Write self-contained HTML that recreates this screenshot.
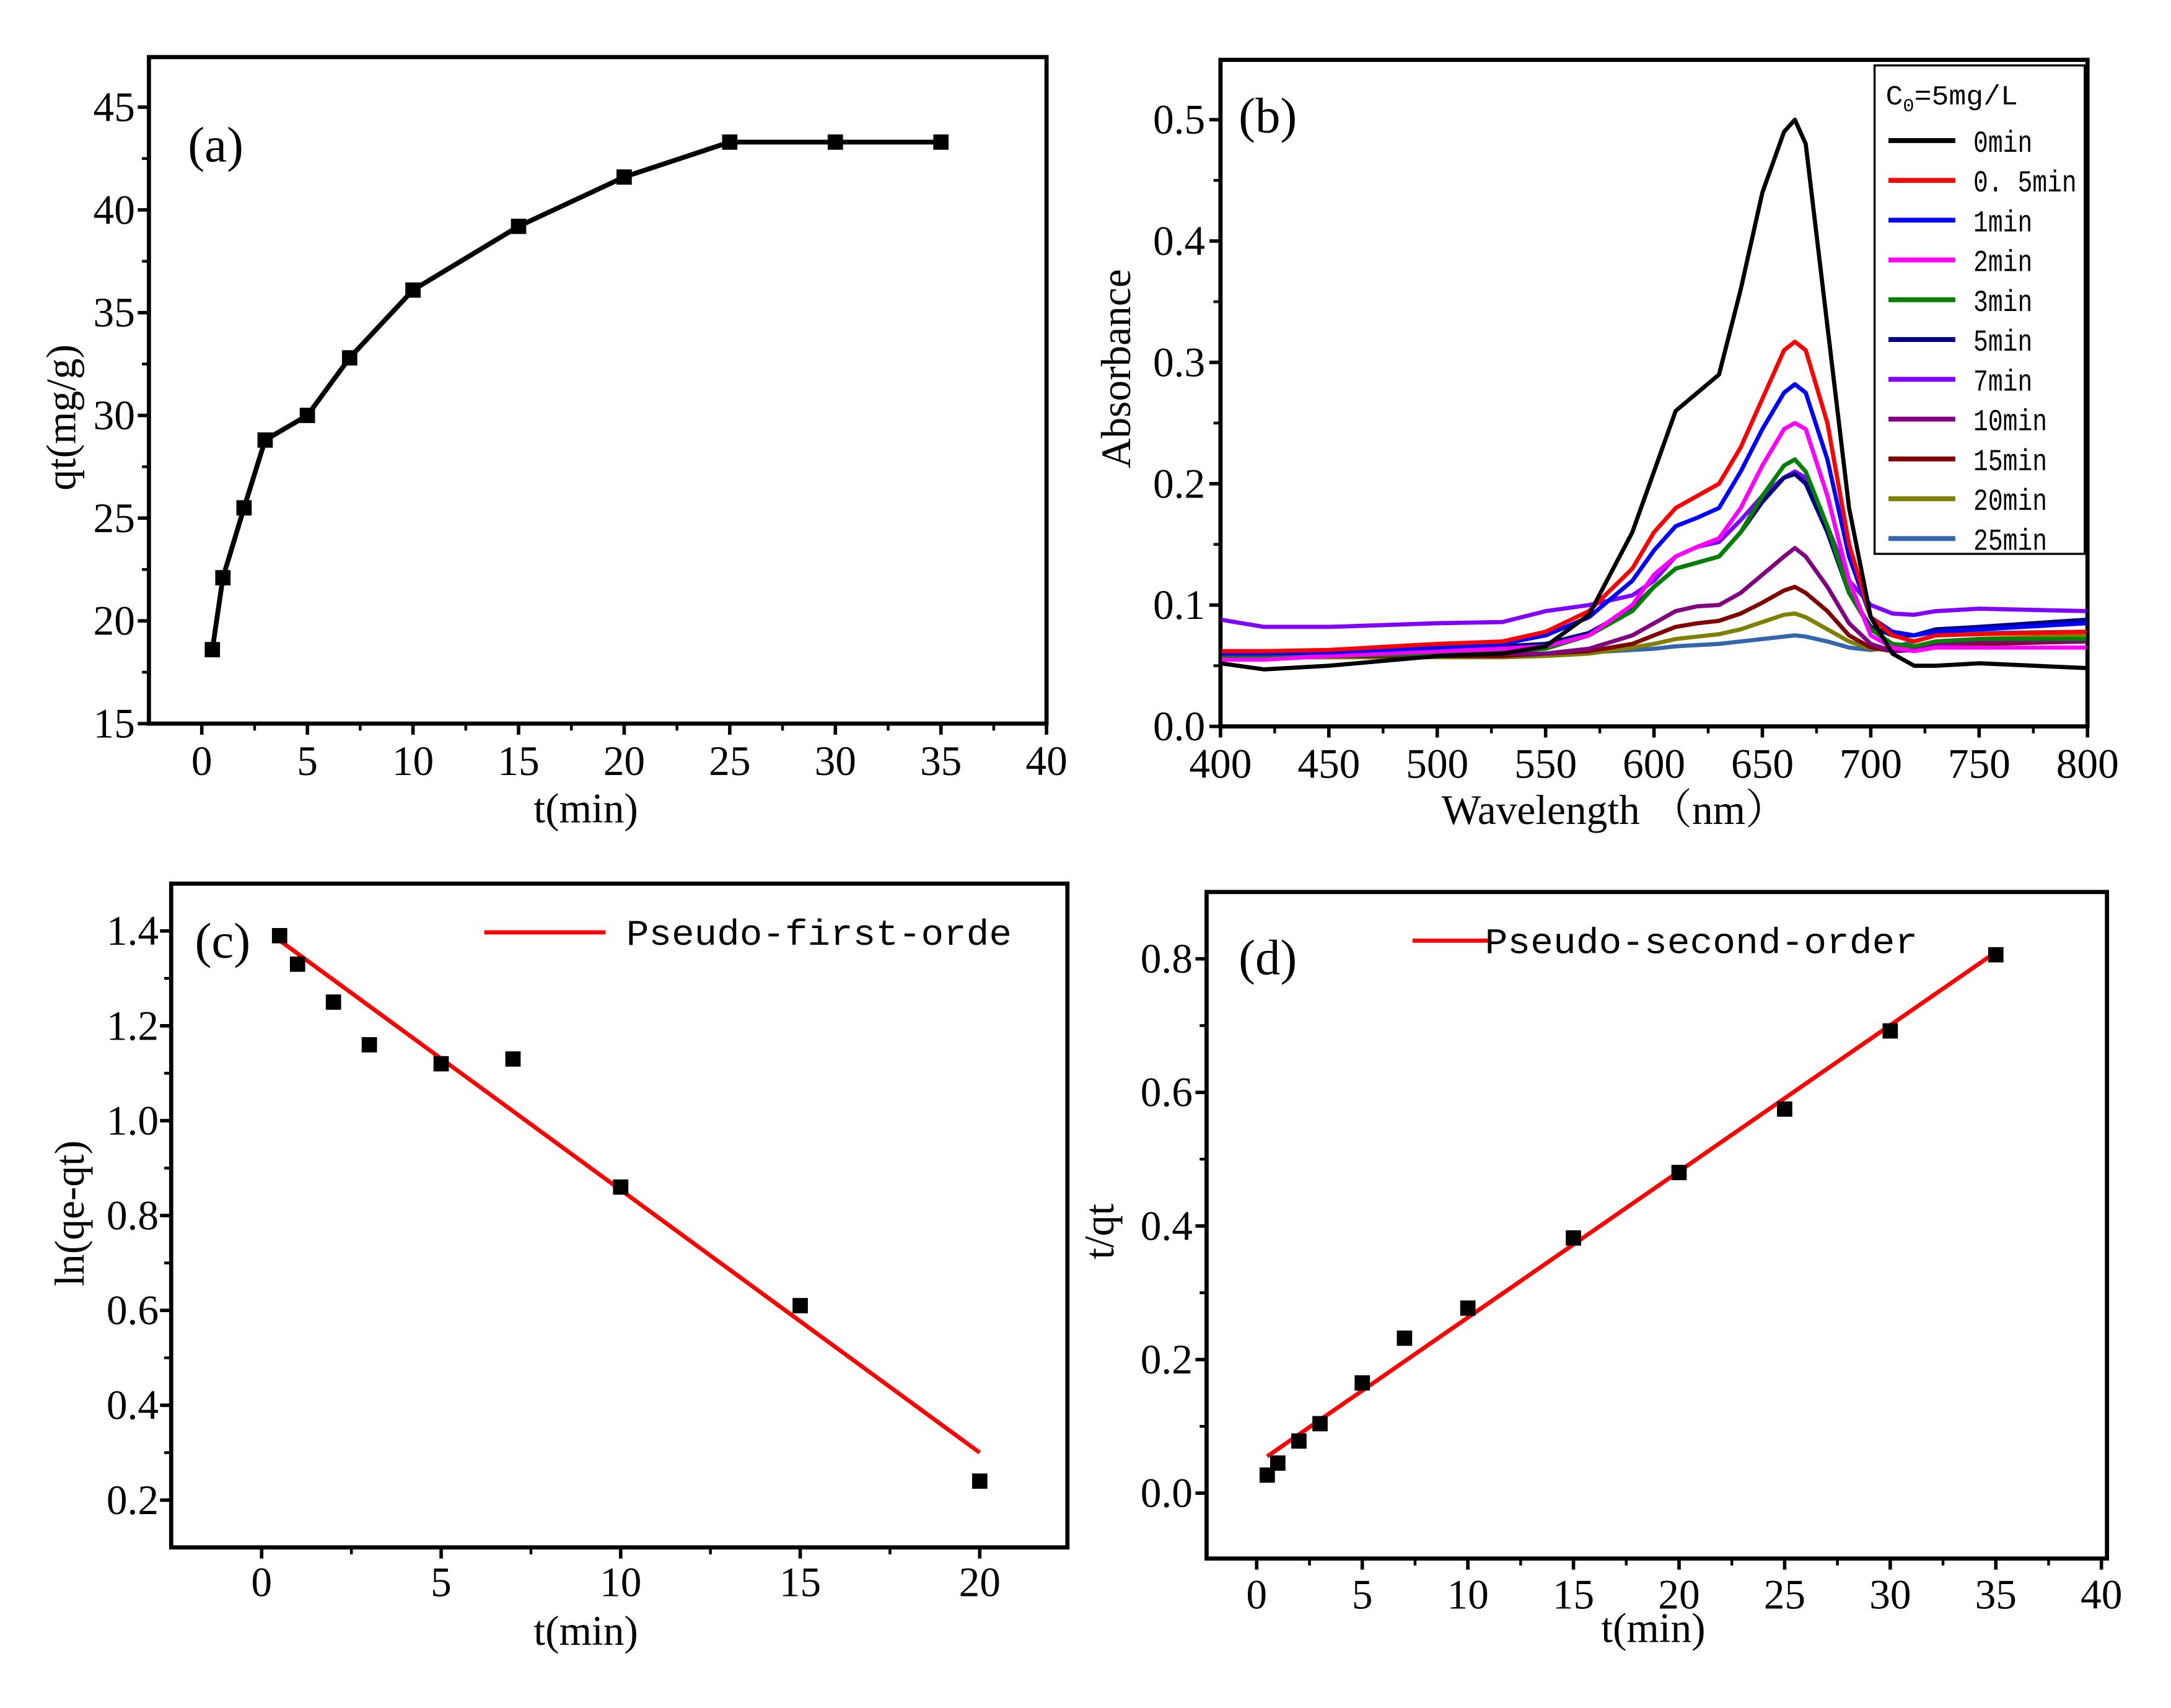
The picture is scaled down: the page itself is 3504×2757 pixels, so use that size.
<!DOCTYPE html>
<html><head><meta charset="utf-8"><style>html,body{margin:0;padding:0;background:#fff}svg{display:block}</style></head>
<body>
<svg id="fig" xmlns="http://www.w3.org/2000/svg" width="3504" height="2757" viewBox="0 0 1560 1227.4" font-family="'Liberation Serif', serif">
<rect width="1560" height="1228" fill="#fff"/>
</svg>
<script>
// ---- Panel (a) data ----
const aT=[0.5,1,2,3,5,7,10,15,20,25,30,35];
const aQ=[18.6,22.1,25.5,28.8,30.0,32.8,36.1,39.2,41.6,43.3,43.3,43.3];
const aXTicks=[0,5,10,15,20,25,30,35,40];
const aYTicks=[15,20,25,30,35,40,45];
// ---- Panel (b) data ----
const bW=[400,420,450,500,530,550,570,590,600,610,620,630,640,650,660,665,670,680,690,700,710,720,730,750,800];
const bLabels=['0min','0. 5min','1min','2min','3min','5min','7min','10min','15min','20min','25min'];
const bColors=['#000000','#ff0000','#0000ff','#ff00ff','#008000','#000080','#8000ff','#800080','#800000','#808000','#3366aa'];
const b0=[0.052,0.047,0.050,0.058,0.060,0.066,0.092,0.16,0.21,0.26,0.275,0.29,0.36,0.44,0.49,0.50,0.48,0.33,0.18,0.09,0.06,0.05,0.05,0.052,0.048];
const b05=[0.062,0.062,0.063,0.068,0.070,0.078,0.095,0.13,0.16,0.18,0.19,0.20,0.23,0.27,0.31,0.317,0.31,0.25,0.15,0.09,0.075,0.07,0.075,0.076,0.078];
const b1=[0.060,0.060,0.061,0.065,0.068,0.075,0.09,0.12,0.145,0.165,0.172,0.18,0.21,0.245,0.275,0.282,0.275,0.22,0.14,0.09,0.078,0.075,0.078,0.08,0.085];
const b2=[0.055,0.055,0.058,0.062,0.064,0.066,0.075,0.10,0.125,0.14,0.148,0.155,0.18,0.215,0.245,0.25,0.245,0.19,0.12,0.075,0.065,0.062,0.065,0.065,0.065];
const b3=[0.058,0.058,0.058,0.060,0.062,0.064,0.075,0.095,0.115,0.13,0.135,0.14,0.16,0.19,0.215,0.22,0.21,0.165,0.11,0.08,0.068,0.066,0.07,0.072,0.072];
const b5=[0.062,0.062,0.062,0.064,0.066,0.068,0.077,0.097,0.115,0.13,0.135,0.14,0.16,0.185,0.205,0.208,0.2,0.16,0.11,0.082,0.075,0.075,0.08,0.082,0.088];
const b7=[0.088,0.082,0.082,0.085,0.086,0.095,0.10,0.108,0.12,0.14,0.148,0.152,0.17,0.19,0.205,0.21,0.205,0.165,0.12,0.10,0.093,0.092,0.095,0.097,0.095];
const b10=[0.058,0.058,0.058,0.060,0.060,0.060,0.064,0.075,0.085,0.095,0.099,0.10,0.11,0.125,0.14,0.147,0.14,0.115,0.085,0.068,0.062,0.063,0.068,0.07,0.07];
const b15=[0.058,0.058,0.058,0.058,0.058,0.060,0.062,0.068,0.075,0.082,0.085,0.087,0.093,0.102,0.112,0.115,0.11,0.095,0.075,0.065,0.062,0.063,0.066,0.068,0.07];
const b20=[0.057,0.057,0.057,0.057,0.057,0.058,0.06,0.065,0.068,0.072,0.074,0.076,0.08,0.086,0.092,0.093,0.09,0.08,0.07,0.064,0.063,0.065,0.07,0.072,0.075];
const b25=[0.057,0.057,0.057,0.058,0.058,0.06,0.061,0.063,0.064,0.066,0.067,0.068,0.07,0.072,0.074,0.075,0.074,0.07,0.065,0.063,0.065,0.07,0.075,0.077,0.078];
const bXTicks=[400,450,500,550,600,650,700,750,800];
const bYTicks=[0.0,0.1,0.2,0.3,0.4,0.5];
// ---- Panel (c) data ----
const cT=[0.5,1,2,3,5,7,10,15,20];
const cY=[1.39,1.33,1.25,1.16,1.12,1.13,0.86,0.61,0.24];
const cFitT=[0.5,20];
const cFitY=[1.38,0.30];
const cXTicks=[0,5,10,15,20];
const cYTicks=[0.2,0.4,0.6,0.8,1.0,1.2,1.4];
// ---- Panel (d) data ----
const dT=[0.5,1,2,3,5,7,10,15,20,25,30,35];
const dY=[0.027,0.045,0.078,0.104,0.165,0.232,0.277,0.382,0.48,0.575,0.692,0.806];
const dFitT=[0.5,35];
const dFitY=[0.055,0.81];
const dXTicks=[0,5,10,15,20,25,30,35,40];
const dYTicks=[0.0,0.2,0.4,0.6,0.8];

const NS='http://www.w3.org/2000/svg';
const svg=document.getElementById('fig');
function mk(tag,attrs,parent,txt){const e=document.createElementNS(NS,tag);for(const k in attrs)e.setAttribute(k,attrs[k]);if(txt!==undefined)e.textContent=txt;(parent||svg).appendChild(e);return e;}
function lin(d0,d1,p0,p1){return v=>p0+(v-d0)*(p1-p0)/(d1-d0);}

function axes(g,box,sx,sy,xt,yt,xfmt,yfmt,xLabY,yLabX,fs){
  const fr=mk('rect',{x:box[0],y:box[1],width:box[2]-box[0],height:box[3]-box[1],fill:'none',stroke:'#000','stroke-width':3},g);
  
  
  xt.forEach(v=>{const x=sx(v);
    const t=mk('line',{x1:x,x2:x,y1:box[3],y2:box[3]+8,stroke:'#000','stroke-width':2.5},g);
    
    
    const l=mk('text',{x:x,y:xLabY,'text-anchor':'middle','font-size':fs},g,xfmt(v));
    
    });
  for(let i=0;i<xt.length-1;i++){const x=sx((xt[i]+xt[i+1])/2);
    const t=mk('line',{x1:x,x2:x,y1:box[3],y2:box[3]+5,stroke:'#000','stroke-width':2},g);
    
    }
  yt.forEach(v=>{const y=sy(v);
    const t=mk('line',{x1:box[0]-8,x2:box[0],y1:y,y2:y,stroke:'#000','stroke-width':2.5},g);
    
    
    const l=mk('text',{x:yLabX,y:y+10,'text-anchor':'end','font-size':fs},g,yfmt(v));
    
    });
  for(let i=0;i<yt.length-1;i++){const y=sy((yt[i]+yt[i+1])/2);
    const t=mk('line',{x1:box[0]-5,x2:box[0],y1:y,y2:y,stroke:'#000','stroke-width':2},g);
    
    }
}
function squares(g,xs,ys,sx,sy,name){xs.forEach((v,i)=>{
  const r=mk('rect',{x:sx(v)-5.5,y:sy(ys[i])-5.5,width:11,height:11,fill:'#000'},g);
  
  });}
function poly(g,xs,ys,sx,sy,color,w,name){
  const p=mk('polyline',{points:xs.map((v,i)=>sx(v)+','+sy(ys[i])).join(' '),fill:'none',stroke:color,'stroke-width':w,'stroke-linejoin':'round'},g);
  
  return p;}
function txt(g,x,y,s,fs,name,extra){const a={x:x,y:y,'font-size':fs};Object.assign(a,extra||{});
  const t=mk('text',a,g,s);
  
  return t;}

// ---- Panel a ----
const ga=mk('g',{});


const aBox=[107,41,752,520];
const axA=lin(0,40,145,752), ayA=lin(15,45,520,77);
axes(ga,aBox,axA,ayA,aXTicks,aYTicks,v=>v,v=>v,557,97,30);
poly(ga,aT,aQ,axA,ayA,'#000',3.5,'series-line-qt');
squares(ga,aT,aQ,axA,ayA,'data-point');
txt(ga,135,116,'(a)',36,'panel-label-a');
txt(ga,421,591,'t(min)',30,'x-axis-title',{'text-anchor':'middle'});
txt(ga,0,0,'qt(mg/g)',30,'y-axis-title',{'text-anchor':'middle',transform:'translate(54,300) rotate(-90)'});

// ---- Panel b ----
const gb=mk('g',{});


const bBox=[877,43,1500,522];
const axB=lin(400,800,877,1500), ayB=lin(0,0.5,522,86);
axes(gb,bBox,axB,ayB,bXTicks,bYTicks,v=>v,v=>v.toFixed(1),559,866,30);
const bSeries=[b0,b05,b1,b2,b3,b5,b7,b10,b15,b20,b25];
const bClip=mk('clipPath',{id:'clipb'},gb);mk('rect',{x:878,y:44,width:621,height:477},bClip);
const bg=mk('g',{'clip-path':'url(#clipb)'},gb);
for(let i=bSeries.length-1;i>=0;i--){poly(bg,bW,bSeries[i],axB,ayB,bColors[i],3,'spectrum-'+bLabels[i].replace(/[ .]/g,''));}
txt(gb,890,95,'(b)',36,'panel-label-b');
txt(gb,1160,592,'Wavelength （nm）',30,'x-axis-title',{'text-anchor':'middle','font-family':"'Liberation Serif','Noto Serif CJK SC',serif"});
txt(gb,0,0,'Absorbance',30,'y-axis-title',{'text-anchor':'middle',transform:'translate(812,265) rotate(-90)'});
const lg=mk('g',{},gb);


mk('rect',{x:1347,y:47,width:151,height:351,fill:'#fff',stroke:'#000','stroke-width':1.5},lg);
const hd=txt(lg,1355,75,'C',20,'legend-title',{'font-family':"'Liberation Mono',monospace",textLength:95,lengthAdjust:'spacingAndGlyphs'});
mk('tspan',{'font-size':13,dy:5},hd,'0');mk('tspan',{dy:-5},hd,'=5mg/L');
bLabels.forEach((s,i)=>{const y=101+i*28.6;
  const l=mk('line',{x1:1357,x2:1405,y1:y,y2:y,stroke:bColors[i],'stroke-width':3.5},lg);
  
  
  txt(lg,1418,y+8,s,22,'legend-entry',{'font-family':"'Liberation Mono',monospace",textLength:s.length*10.6,lengthAdjust:'spacingAndGlyphs'});});

// ---- Panel c ----
const gc=mk('g',{});


const cBox=[123,635,767,1112];
const axC=lin(0,20,188,704), ayC=lin(0.2,1.4,1078,669);
axes(gc,cBox,axC,ayC,cXTicks,cYTicks,v=>v,v=>v.toFixed(1),1147,114,30);
poly(gc,cFitT,cFitY,axC,ayC,'#ff0000',3,'fit-line-first-order');
squares(gc,cT,cY,axC,ayC,'data-point');
txt(gc,140,688,'(c)',36,'panel-label-c');
const lc=mk('line',{x1:348,x2:435,y1:670,y2:670,stroke:'#ff0000','stroke-width':3},gc);


txt(gc,450,679,'Pseudo-first-orde',26,'legend-entry',{'font-family':"'Liberation Mono',monospace",textLength:277,lengthAdjust:'spacingAndGlyphs'});
txt(gc,421,1182,'t(min)',30,'x-axis-title',{'text-anchor':'middle'});
txt(gc,0,0,'ln(qe-qt)',30,'y-axis-title',{'text-anchor':'middle',transform:'translate(60,872) rotate(-90)'});

// ---- Panel d ----
const gd=mk('g',{});


const dBox=[867,641,1514,1120];
const axD=lin(0,40,903,1510), ayD=lin(0,0.8,1073,689);
axes(gd,dBox,axD,ayD,dXTicks,dYTicks,v=>v,v=>v.toFixed(1),1156,857,30);
poly(gd,dFitT,dFitY,axD,ayD,'#ff0000',3,'fit-line-second-order');
squares(gd,dT,dY,axD,ayD,'data-point');
txt(gd,890,700,'(d)',36,'panel-label-d');
const ld=mk('line',{x1:1015,x2:1070,y1:676,y2:676,stroke:'#ff0000','stroke-width':3},gd);


txt(gd,1067,685,'Pseudo-second-order',26,'legend-entry',{'font-family':"'Liberation Mono',monospace",textLength:311,lengthAdjust:'spacingAndGlyphs'});
txt(gd,1188,1180,'t(min)',30,'x-axis-title',{'text-anchor':'middle'});
txt(gd,0,0,'t/qt',30,'y-axis-title',{'text-anchor':'middle',transform:'translate(800,885) rotate(-90)'});
</script>
</body></html>
